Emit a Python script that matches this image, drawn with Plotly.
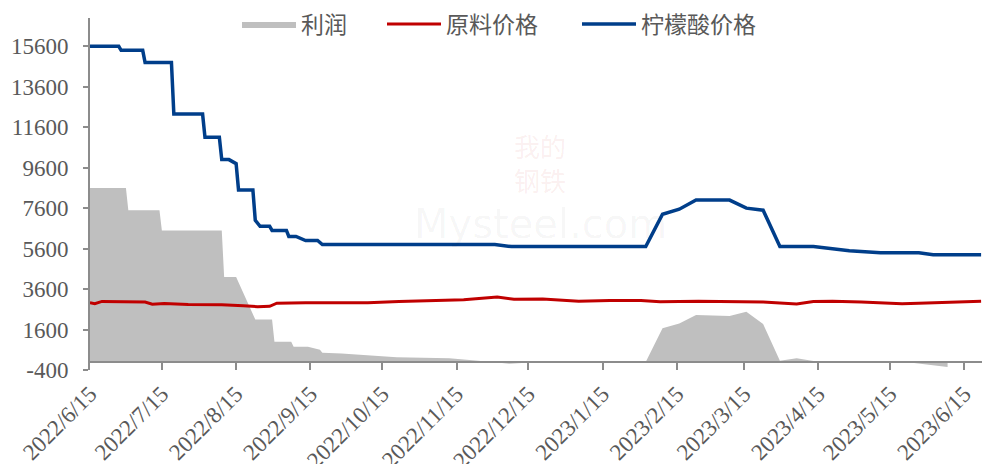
import plotly.graph_objects as go

# ---- data ----
profit_dates = ['2022-06-15','2022-06-30','2022-07-01','2022-07-14','2022-07-15','2022-08-09','2022-08-10',
                '2022-08-15','2022-08-23','2022-08-30','2022-08-31','2022-09-07','2022-09-08','2022-09-14',
                '2022-09-19','2022-09-20','2022-09-28','2022-10-15','2022-10-21','2022-11-12','2022-11-19',
                '2022-11-24','2022-11-30','2022-12-07','2022-12-14','2022-12-21','2023-01-31','2023-02-02',
                '2023-02-09','2023-02-16','2023-02-23','2023-03-09','2023-03-16','2023-03-23','2023-03-30',
                '2023-04-06','2023-04-13','2023-04-20','2023-04-27','2023-05-11','2023-05-25','2023-06-01',
                '2023-06-08']
profit_vals = [8600,8600,7500,7500,6500,6500,4200,4200,2100,2100,1000,1000,750,750,600,450,420,300,230,
               175,125,60,0,-90,-40,0,0,0,1660,1900,2320,2270,2480,1870,60,180,50,0,-30,-40,-60,-150,-250]

raw_dates = ['2022-06-15','2022-06-17','2022-06-20','2022-06-27','2022-07-08','2022-07-11','2022-07-16',
             '2022-07-26','2022-08-09','2022-08-18','2022-08-24','2022-08-29','2022-09-01','2022-09-13',
             '2022-09-27','2022-10-09','2022-10-22','2022-11-05','2022-11-18','2022-12-02','2022-12-09',
             '2022-12-21','2023-01-05','2023-01-18','2023-01-31','2023-02-08','2023-02-24','2023-03-23',
             '2023-04-06','2023-04-13','2023-04-21','2023-05-03','2023-05-20','2023-05-27','2023-06-08',
             '2023-06-22']
raw_vals = [2920,2880,2990,2980,2960,2850,2890,2840,2820,2770,2730,2750,2900,2930,2930,2920,2990,3040,
            3070,3210,3100,3110,3000,3030,3030,2970,3000,2960,2860,2980,3000,2960,2880,2900,2950,3000]

citric_dates = ['2022-06-15','2022-06-27','2022-06-28','2022-07-07','2022-07-08','2022-07-19','2022-07-20',
                '2022-08-01','2022-08-02','2022-08-08','2022-08-09','2022-08-12','2022-08-15','2022-08-16',
                '2022-08-22','2022-08-23','2022-08-25','2022-08-29','2022-08-30','2022-09-05','2022-09-06',
                '2022-09-09','2022-09-13','2022-09-18','2022-09-20','2022-12-01','2022-12-08','2023-02-02',
                '2023-02-09','2023-02-16','2023-02-23','2023-03-09','2023-03-16','2023-03-23','2023-03-30',
                '2023-04-13','2023-04-28','2023-05-11','2023-05-27','2023-06-02','2023-06-22']
citric_vals = [15600,15600,15400,15400,14800,14800,12250,12250,11100,11100,10000,10000,9800,8500,8500,
               7000,6700,6700,6500,6500,6200,6200,6000,6000,5800,5800,5700,5700,7300,7550,8000,8000,7600,
               7500,5700,5700,5500,5400,5400,5300,5300]

tick_dates = ['2022-06-15','2022-07-15','2022-08-15','2022-09-15','2022-10-15','2022-11-15','2022-12-15',
              '2023-01-15','2023-02-15','2023-03-15','2023-04-15','2023-05-15','2023-06-15']
tick_text = ['2022/6/15','2022/7/15','2022/8/15','2022/9/15','2022/10/15','2022/11/15','2022/12/15',
             '2023/1/15','2023/2/15','2023/3/15','2023/4/15','2023/5/15','2023/6/15']

y_ticks = [-400, 1600, 3600, 5600, 7600, 9600, 11600, 13600, 15600]
y_text = ['-400', '1600', '3600', '5600', '7600', '9600', '11600', '13600', '15600']

names = ['利润', '原料价格', '柠檬酸价格']

# ---- figure ----
GRAY_TXT = '#595959'
AX = '#8c8c8c'
SERIF = 'Liberation Serif, Times New Roman, serif'
CJK = 'Noto Sans CJK SC, sans-serif'

fig = go.Figure()
fig.add_trace(go.Scatter(x=profit_dates, y=profit_vals, name=names[0], mode='lines', legend='legend',
                         fill='tozeroy', fillcolor='#bfbfbf', line=dict(width=0, color='#bfbfbf')))
fig.add_trace(go.Scatter(x=raw_dates, y=raw_vals, name=names[1], mode='lines', legend='legend2',
                         line=dict(width=3, color='#c00000')))
fig.add_trace(go.Scatter(x=citric_dates, y=citric_vals, name=names[2], mode='lines', legend='legend3',
                         line=dict(width=3.5, color='#003e8a')))

# x axis line crosses at zero
fig.add_shape(type='line', xref='paper', x0=0, x1=1, yref='y', y0=0, y1=0,
              line=dict(color=AX, width=2), layer='above')

# faint watermark
fig.add_annotation(text='我的<br>钢铁', xref='paper', yref='paper', x=0.505, y=1 - (163 - 18) / 352,
                   showarrow=False, font=dict(family=CJK, size=26, color='rgba(200,40,40,0.08)'))
fig.add_annotation(text='Mysteel.com', xref='paper', yref='paper', x=0.505, y=1 - (224 - 18) / 352,
                   showarrow=False, font=dict(family='DejaVu Sans, sans-serif', size=40,
                                              color='rgba(0,0,0,0.04)'))

def leg(xpx):
    return dict(orientation='h', x=(xpx - 90) / 892, y=1 - (24 - 18) / 352, xanchor='left',
                yanchor='middle', font=dict(family=CJK, size=23, color=GRAY_TXT), itemwidth=54,
                bgcolor='rgba(0,0,0,0)', borderwidth=0)

fig.update_layout(
    width=982, height=464,
    margin=dict(l=90, r=0, t=18, b=94),
    paper_bgcolor='white', plot_bgcolor='white',
    showlegend=True,
    legend=leg(237), legend2=leg(382), legend3=leg(577),
    xaxis=dict(type='date', range=['2022-06-15', '2023-06-22 09:00'], automargin=False,
               tickmode='array', tickvals=tick_dates, ticktext=tick_text, tickangle=-45,
               tickfont=dict(family=SERIF, size=23, color=GRAY_TXT), ticklabelstandoff=5,
               ticks='inside', ticklen=7, tickwidth=2, tickcolor=AX,
               showline=False, showgrid=False, zeroline=False),
    yaxis=dict(range=[-400, 17000], automargin=False,
               tickmode='array', tickvals=y_ticks, ticktext=y_text,
               tickfont=dict(family=SERIF, size=23, color=GRAY_TXT),
               ticks='outside', ticklen=5, tickwidth=2, tickcolor=AX, ticklabelstandoff=10,
               showline=True, linecolor=AX, linewidth=2,
               showgrid=False, zeroline=False),
)

fig.write_html('out.html', config={'displayModeBar': False},
               post_script="document.body.style.margin='0';document.body.style.padding='0';"
                           "document.documentElement.style.overflow='hidden';")
